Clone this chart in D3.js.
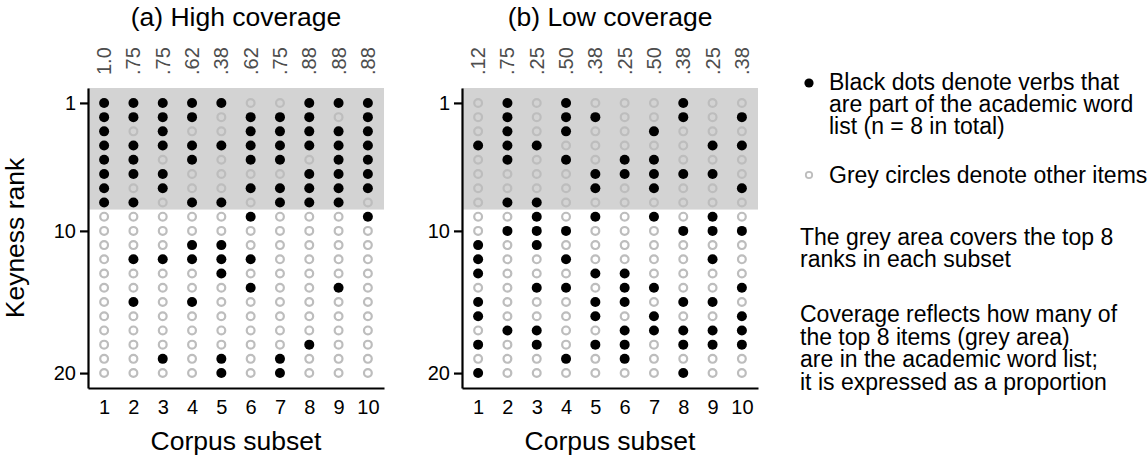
<!DOCTYPE html>
<html>
<head>
<meta charset="utf-8">
<script src="https://cdn.jsdelivr.net/npm/d3@7"></script>
<style>
  body { margin: 0; background: #fff; }
  svg { font-family: "Liberation Sans", Arial, sans-serif; }
</style>
</head>
<body>
<script>
// corpus subsets and rank range
var subsets = [1, 2, 3, 4, 5, 6, 7, 8, 9, 10];
var ranks = d3.range(1, 21);
var rankTicks = [1, 10, 20];
var topN = 8;

// ranks of the academic-word-list verbs in each subset
var highBlack = [
  [1, 2, 3, 4, 5, 6, 7, 8],
  [1, 2, 4, 5, 6, 8, 12, 15],
  [1, 2, 3, 4, 6, 7, 12, 19],
  [1, 2, 4, 5, 8, 11, 12, 15],
  [1, 4, 8, 11, 12, 13, 19, 20],
  [2, 3, 4, 5, 7, 9, 12, 14],
  [2, 3, 4, 5, 7, 8, 19, 20],
  [1, 2, 3, 4, 6, 7, 8, 18],
  [1, 3, 4, 5, 6, 7, 8, 14],
  [1, 2, 3, 4, 5, 6, 7, 9]
];
var lowBlack = [
  [4, 11, 12, 13, 15, 16, 18, 20],
  [1, 2, 3, 4, 5, 8, 10, 17],
  [4, 8, 9, 10, 11, 14, 17, 18],
  [1, 2, 3, 5, 10, 12, 14, 19],
  [2, 6, 7, 9, 13, 15, 16, 18],
  [5, 6, 13, 14, 15, 17, 18, 19],
  [3, 5, 6, 7, 9, 14, 16, 17],
  [1, 2, 6, 10, 15, 17, 18, 20],
  [4, 6, 9, 10, 12, 15, 17, 18],
  [2, 4, 7, 10, 14, 16, 17, 18]
];

// coverage labels on top
var highCoverage = ["1.0", ".75", ".75", ".62", ".38", ".62", ".75", ".88", ".88", ".88"];
var lowCoverage = [".12", ".75", ".25", ".50", ".38", ".25", ".50", ".38", ".25", ".38"];

var legendBlack = ["Black dots denote verbs that", "are part of the academic word", "list (n = 8 in total)"];
var legendGrey = ["Grey circles denote other items"];
var noteArea = ["The grey area covers the top 8", "ranks in each subset"];
var noteCoverage = ["Coverage reflects how many of", "the top 8 items (grey area)", "are in the academic word list;", "it is expressed as a proportion"];

var svg = d3.select("body").append("svg")
  .attr("width", 1148)
  .attr("height", 460);

var plotTop = 88, plotBottom = 388;

var yScale = d3.scaleLinear()
  .domain([-0.05, 21.05])
  .range([plotTop, plotBottom]);

function drawPanel(left, right, title, black, coverage, showYTitle) {
  var xScale = d3.scaleLinear()
    .domain([0.45, 10.55])
    .range([left, right]);

  var g = svg.append("g");

  // grey area behind the top 8 ranks
  g.append("rect")
    .attr("x", left)
    .attr("y", plotTop)
    .attr("width", right - left)
    .attr("height", yScale(topN + 0.5) - plotTop)
    .attr("fill", "#d3d3d3");

  var cells = [];
  subsets.forEach(function(s, i) {
    ranks.forEach(function(r) {
      cells.push({ subset: s, rank: r, awl: black[i].indexOf(r) >= 0 });
    });
  });

  g.selectAll(".other")
    .data(cells.filter(d => !d.awl))
    .enter()
    .append("circle")
    .attr("cx", d => xScale(d.subset))
    .attr("cy", d => yScale(d.rank))
    .attr("r", 3.9)
    .attr("fill", "none")
    .attr("stroke", "#bdbdbd")
    .attr("stroke-width", 2.2);

  g.selectAll(".awl")
    .data(cells.filter(d => d.awl))
    .enter()
    .append("circle")
    .attr("cx", d => xScale(d.subset))
    .attr("cy", d => yScale(d.rank))
    .attr("r", 5)
    .attr("fill", "#000");

  // left axis
  var yAxis = d3.axisLeft(yScale).tickValues(rankTicks).tickSize(8).tickPadding(4).tickSizeOuter(0);
  var ya = g.append("g")
    .attr("transform", `translate(${left},0)`)
    .call(yAxis);
  ya.select(".domain").attr("stroke-width", 2.2);
  ya.selectAll(".tick line").attr("stroke-width", 2.2);
  ya.selectAll("text").attr("font-size", 20).attr("fill", "#000");

  // bottom axis
  var xAxis = d3.axisBottom(xScale).tickValues(subsets).tickSize(0).tickPadding(12).tickSizeOuter(0);
  var xa = g.append("g")
    .attr("transform", `translate(0,${plotBottom})`)
    .call(xAxis);
  xa.select(".domain").attr("stroke-width", 2.2);
  xa.selectAll("text").attr("font-size", 20).attr("fill", "#000");

  // coverage labels
  g.selectAll(".cov")
    .data(coverage)
    .enter()
    .append("text")
    .attr("transform", (d, i) => `translate(${xScale(subsets[i])},75) rotate(-90)`)
    .attr("dominant-baseline", "central")
    .attr("font-size", 20)
    .attr("fill", "#4d4d4d")
    .text(d => d);

  g.append("text")
    .attr("x", (left + right) / 2)
    .attr("y", 26)
    .attr("text-anchor", "middle")
    .attr("font-size", 26.5)
    .text(title);

  g.append("text")
    .attr("x", (left + right) / 2)
    .attr("y", 450)
    .attr("text-anchor", "middle")
    .attr("font-size", 26.5)
    .text("Corpus subset");

  if (showYTitle) {
    g.append("text")
      .attr("transform", `translate(24,${(plotTop + plotBottom) / 2}) rotate(-90)`)
      .attr("text-anchor", "middle")
      .attr("font-size", 26.5)
      .text("Keyness rank");
  }
}

drawPanel(88, 384, "(a) High coverage", highBlack, highCoverage, true);
drawPanel(462, 758, "(b) Low coverage", lowBlack, lowCoverage, false);

// legend / notes
var lg = svg.append("g").attr("font-size", 23);

function textBlock(lines, x, y0, step) {
  lg.selectAll(null)
    .data(lines)
    .enter()
    .append("text")
    .attr("x", x)
    .attr("y", (d, i) => y0 + i * step)
    .attr("dominant-baseline", "central")
    .text(d => d);
}

lg.append("circle").attr("cx", 809).attr("cy", 83).attr("r", 4.6).attr("fill", "#000");
textBlock(legendBlack, 829, 82, 22);

lg.append("circle").attr("cx", 809).attr("cy", 175).attr("r", 3.2)
  .attr("fill", "none").attr("stroke", "#bdbdbd").attr("stroke-width", 1.8);
textBlock(legendGrey, 829, 175, 22);

textBlock(noteArea, 800, 237, 22);
textBlock(noteCoverage, 800, 314, 22.5);
</script>
</body>
</html>
